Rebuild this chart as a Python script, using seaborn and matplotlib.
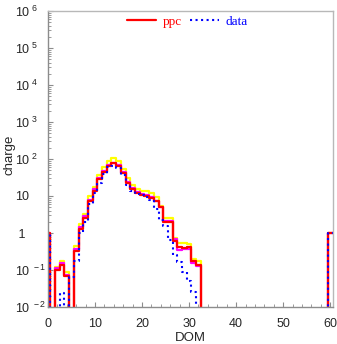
import numpy as np
import pandas as pd
import matplotlib
matplotlib.use("Agg")
import matplotlib.pyplot as plt
import matplotlib.ticker as mticker
import seaborn as sns

# ---- data ----
dom = list(range(0, 61))

ppc_red = {0: 1, 2: 0.10, 3: 0.14, 4: 0.07, 6: 0.33, 7: 1.3, 8: 2.5, 9: 7.5, 10: 14, 11: 28,
           12: 45, 13: 65, 14: 76, 15: 64, 16: 42, 17: 23, 18: 15, 19: 12, 20: 10.5, 21: 10,
           22: 9, 23: 7.2, 24: 5, 25: 2.0, 26: 2.0, 27: 0.6, 28: 0.42, 29: 0.4, 30: 0.42,
           31: 0.17, 32: 0.14, 60: 1}
ppc_yellow = {0: 1, 2: 0.12, 3: 0.17, 4: 0.09, 6: 0.45, 7: 1.7, 8: 3.3, 9: 10, 10: 18, 11: 36,
              12: 60, 13: 90, 14: 104, 15: 88, 16: 55, 17: 30, 18: 20, 19: 15, 20: 13.5, 21: 13.5,
              22: 12, 23: 9.5, 24: 5.5, 25: 2.6, 26: 2.6, 27: 0.75, 28: 0.55, 29: 0.55, 30: 0.5,
              31: 0.2, 32: 0.17, 60: 1}
ppc_magenta = {0: 1, 2: 0.11, 3: 0.15, 4: 0.075, 6: 0.38, 7: 1.45, 8: 2.8, 9: 8, 10: 15, 11: 30,
               12: 48, 13: 70, 14: 80, 15: 68, 16: 45, 17: 24, 18: 16, 19: 12.5, 20: 11, 21: 10.5,
               22: 9.5, 23: 7.5, 24: 5.2, 25: 2.1, 26: 2.1, 27: 0.7, 28: 0.35, 29: 0.38, 30: 0.36,
               31: 0.15, 32: 0.13, 60: 1}
data_blue = {0: 1, 3: 0.024, 5: 0.066, 6: 0.17, 7: 1.0, 8: 2.0, 9: 6, 10: 12, 11: 22,
             12: 40, 13: 60, 14: 66, 15: 56, 16: 38, 17: 20, 18: 14, 19: 11.5, 20: 10.5, 21: 9.5,
             22: 8, 23: 4.5, 24: 2.3, 25: 1.5, 26: 0.65, 27: 0.25, 28: 0.16, 29: 0.09, 30: 0.05,
             31: 0.025, 60: 1}

ytick_vals = [1e-2, 1e-1, 1, 10, 1e2, 1e3, 1e4, 1e5, 1e6]
ytick_labels = ["10$^{\\;-2}$", "10$^{\\;-1}$", " 1", "10", "10$^{\\;2}$", "10$^{\\;3}$",
                "10$^{\\;4}$", "10$^{\\;5}$", "10$^{\\;6}$"]
xtick_vals = [0, 10, 20, 30, 40, 50, 60]

# ---- style ----
sns.set_style("ticks")
plt.rcParams["font.family"] = ["Liberation Sans", "DejaVu Sans"]
plt.rcParams["mathtext.default"] = "regular"

fig = plt.figure(figsize=(3.37, 3.44), dpi=100)
L, B, W, H = 48, 37, 284.5, 296
ax = fig.add_axes([L / 337, B / 344, W / 337, H / 344])

def series(d):
    return pd.DataFrame({"DOM": dom, "w": [float(d.get(k, 0.0)) for k in dom]})

for d, color, ls, lw, lab in [
    (ppc_yellow, "#ffff00", "-", 1.6, None),
    (ppc_magenta, "#ff00ff", "-", 1.6, None),
    (ppc_red, "#ff0000", "-", 1.6, "ppc"),
    (data_blue, "#0000ff", ":", 1.5, "data"),
]:
    sns.histplot(data=series(d), x="DOM", weights="w", binwidth=1, binrange=(-0.5, 60.5),
                 element="step", fill=False, color=color, linestyle=ls, linewidth=lw,
                 ax=ax, label=lab)

ax.set_yscale("log")
ax.set_ylim(1e-2, 1e6)
ax.set_xlim(0, 60.5)

ax.yaxis.set_major_locator(mticker.FixedLocator(ytick_vals))
ax.yaxis.set_major_formatter(mticker.FixedFormatter(ytick_labels))
ax.yaxis.set_minor_locator(mticker.LogLocator(base=10, subs=np.arange(2, 10)))
ax.yaxis.set_minor_formatter(mticker.NullFormatter())
ax.xaxis.set_major_locator(mticker.FixedLocator(xtick_vals))
ax.xaxis.set_minor_locator(mticker.MultipleLocator(2))

gray = "#8c8c8c"
for s in ax.spines.values():
    s.set_color("#b8b8b8")
    s.set_linewidth(1.0)
ax.spines["left"].set_color(gray)
ax.spines["bottom"].set_color(gray)

ax.tick_params(which="major", direction="in", length=3.8, color=gray, labelsize=9)
ax.tick_params(which="minor", direction="in", length=2.2, color=gray)
ax.tick_params(axis="x", which="major", pad=8)
ax.tick_params(axis="y", which="major", pad=(L - 15) * 0.72)
for t in ax.get_yticklabels():
    t.set_horizontalalignment("left")

ax.set_xlabel("DOM", fontsize=9.5)
ax.set_ylabel("charge", fontsize=9.5)
ax.xaxis.set_label_coords((190 - L) / W, (307 - 332) / H)
ax.yaxis.set_label_coords((16 - L) / W, (307 - 155) / H)

handles, labels = ax.get_legend_handles_labels()
leg = ax.legend(handles, labels, loc="upper center", bbox_to_anchor=(0.49, 1.025), ncol=2,
                frameon=False, handlelength=2.2, columnspacing=0.6, handletextpad=0.5,
                prop={"family": ["Liberation Serif"], "size": 9.5})
for t, c in zip(leg.get_texts(), ["#ff0000", "#0000ff"]):
    t.set_color(c)

fig.savefig("out.png", dpi=100)
